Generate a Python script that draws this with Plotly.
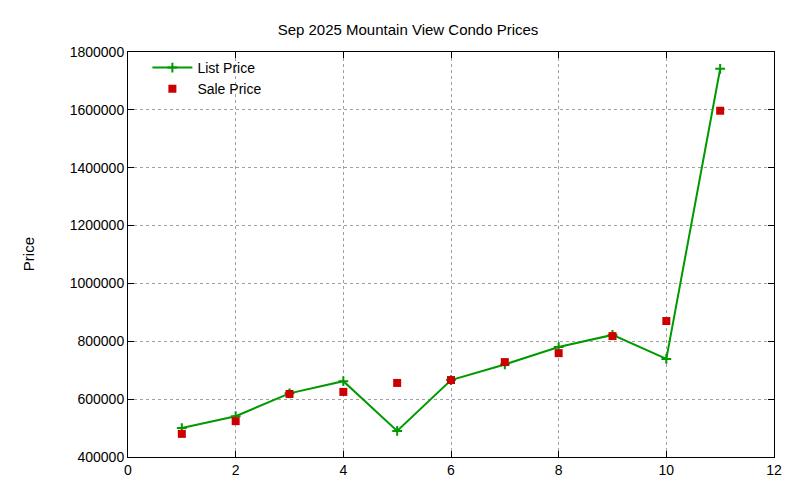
import plotly.graph_objects as go

x = list(range(1, 12))
list_price = [500000, 541000, 620000, 662000, 490000, 666000, 720000, 780000, 822000, 739000, 1742000]
sale_price = [480000, 524000, 618000, 625000, 656000, 666000, 728000, 759000, 818000, 870000, 1597000]
x_ticks = [0, 2, 4, 6, 8, 10, 12]
y_ticks = [400000, 600000, 800000, 1000000, 1200000, 1400000, 1600000, 1800000]

fig = go.Figure()
fig.add_trace(go.Scatter(x=x, y=list_price, mode="lines+markers", name="List Price",
                         line=dict(color="#009900", width=2),
                         marker=dict(symbol="cross-thin", size=7, line=dict(color="#009900", width=2))))
fig.add_trace(go.Scatter(x=x, y=sale_price, mode="markers", name="Sale Price",
                         marker=dict(symbol="square", size=8, color="#cc0000")))

axis = dict(showline=True, linecolor="black", linewidth=1, mirror="ticks", ticks="inside",
            ticklen=6, tickcolor="black", showgrid=True, gridcolor="#a0a0a0", griddash="dot",
            gridwidth=1, zeroline=False, tickfont=dict(size=14, color="black"), automargin=False)
fig.update_xaxes(**axis, range=[0, 12], tickvals=x_ticks)
fig.update_yaxes(**axis, range=[400000, 1800000], tickvals=y_ticks, tickformat="d")
fig.add_annotation(text="Price", xref="paper", yref="paper", x=-0.17, y=0.5,
                   textangle=-90, showarrow=False, font=dict(size=15, color="black"))
fig.update_layout(
    width=800, height=480, paper_bgcolor="white", plot_bgcolor="white",
    font=dict(family="Liberation Sans, Arial, sans-serif", color="black"),
    title=dict(text="Sep 2025 Mountain View Condo Prices", x=0.5, xanchor="center",
               y=0.955, yanchor="middle", font=dict(size=15), automargin=False),
    margin=dict(l=120, r=34, t=44, b=31, autoexpand=False),
    legend=dict(x=0.03, y=1.0, xanchor="left", yanchor="top", bgcolor="rgba(0,0,0,0)",
                font=dict(size=14), tracegroupgap=0, itemwidth=40),
    showlegend=True,
)
fig.write_html("out.html")
